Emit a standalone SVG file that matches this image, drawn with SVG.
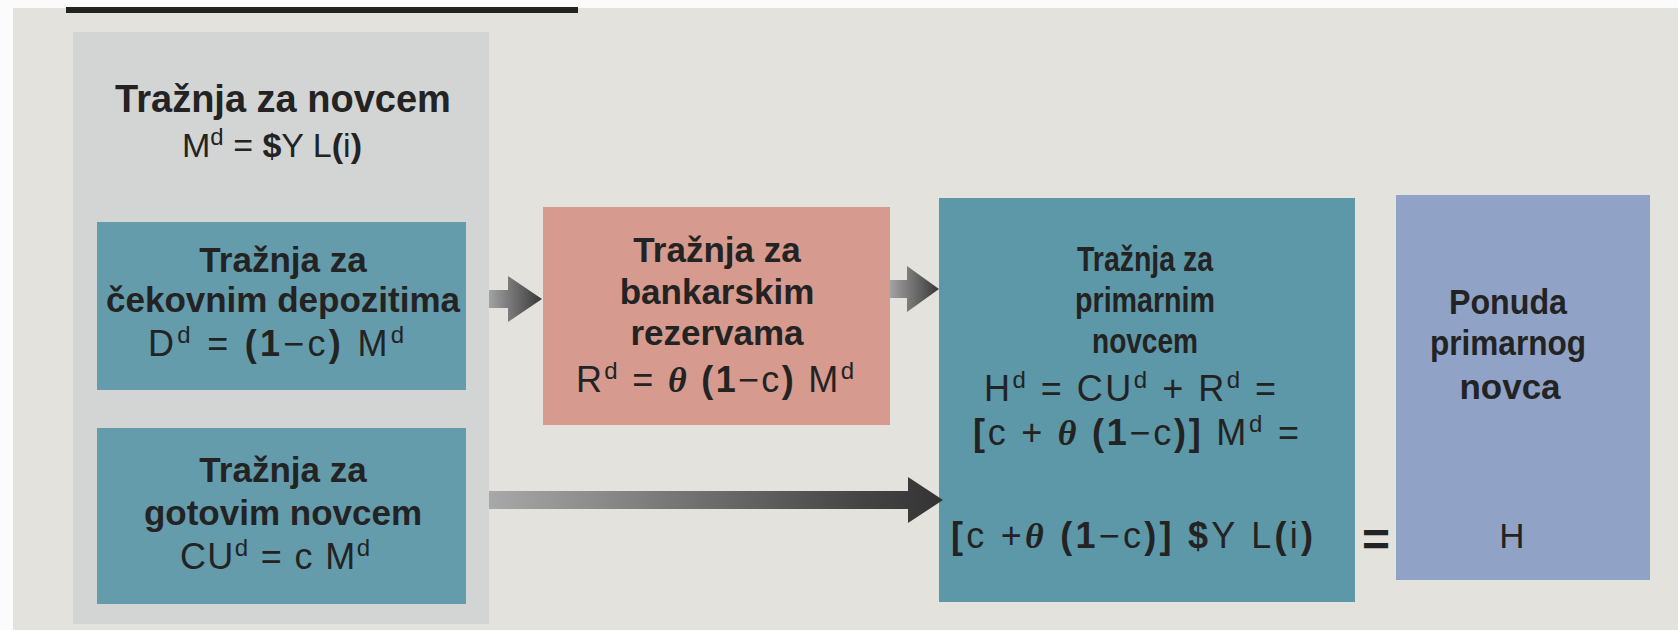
<svg xmlns="http://www.w3.org/2000/svg" width="1678" height="630" viewBox="0 0 1678 630">
<style>
.t{font-family:"Liberation Sans",Arial,Helvetica,sans-serif;fill:#232323;text-anchor:middle}
.b{font-weight:bold;font-size:35px}
.f{font-size:36px}
.s{font-size:24px}
.bb{font-weight:bold}
.th{font-family:"Liberation Serif","DejaVu Serif",serif;font-style:italic;font-weight:bold}
.blue{fill:#649cac}
.big{fill:#5d98a8}
.pink{fill:#d69a8f}
.purple{fill:#90a3c7}
</style>
<defs>
<linearGradient id="g1" gradientUnits="userSpaceOnUse" x1="489" y1="0" x2="542" y2="0"><stop offset="0" stop-color="#a2a2a2"/><stop offset="1" stop-color="#383838"/></linearGradient>
<linearGradient id="g2" gradientUnits="userSpaceOnUse" x1="890" y1="0" x2="939" y2="0"><stop offset="0" stop-color="#a2a2a2"/><stop offset="1" stop-color="#383838"/></linearGradient>
<linearGradient id="g3" gradientUnits="userSpaceOnUse" x1="489" y1="0" x2="943" y2="0"><stop offset="0" stop-color="#a8a8a8"/><stop offset="0.8" stop-color="#474747"/><stop offset="1" stop-color="#333333"/></linearGradient>
</defs>
<rect x="0" y="0" width="1678" height="630" fill="#fbfbfb"/>
<rect x="13" y="8" width="1665" height="622" fill="#e3e2dd"/>
<rect x="66" y="7" width="512" height="6" fill="#222"/>
<rect x="73" y="32" width="416" height="592" fill="#d3d5d4"/>

<g id="money-demand">
<text class="t bb" x="283" y="112" font-size="38">Tražnja za novcem</text>
<text class="t" x="272" y="157" font-size="34">M<tspan class="s" dy="-12">d</tspan><tspan dy="12"> = </tspan><tspan class="bb">$</tspan>Y L<tspan class="bb">(</tspan>i<tspan class="bb">)</tspan></text>
</g>

<g id="deposit-demand">
<rect class="blue" x="97" y="222" width="369" height="168"/>
<text class="t b" x="283" y="272">Tražnja za</text>
<text class="t b" x="283" y="312">čekovnim depozitima</text>
<text class="t f" x="276" y="356" textLength="256" lengthAdjust="spacing">D<tspan class="s" dy="-13">d</tspan><tspan dy="13"> = </tspan><tspan class="bb">(1</tspan>−c<tspan class="bb">)</tspan> M<tspan class="s" dy="-13">d</tspan></text>
</g>

<g id="currency-demand">
<rect class="blue" x="97" y="428" width="369" height="176"/>
<text class="t b" x="283" y="482">Tražnja za</text>
<text class="t b" x="283" y="525">gotovim novcem</text>
<text class="t f" x="275" y="569" textLength="190" lengthAdjust="spacing">CU<tspan class="s" dy="-13">d</tspan><tspan dy="13"> = c M</tspan><tspan class="s" dy="-13">d</tspan></text>
</g>

<g id="reserves-demand">
<rect class="pink" x="543" y="207" width="347" height="218"/>
<text class="t b" x="717" y="262">Tražnja za</text>
<text class="t b" x="717" y="304">bankarskim</text>
<text class="t b" x="717" y="345">rezervama</text>
<text class="t f" x="715" y="392" textLength="278" lengthAdjust="spacing">R<tspan class="s" dy="-13">d</tspan><tspan dy="13"> = </tspan><tspan class="th">θ</tspan> <tspan class="bb">(1</tspan>−c<tspan class="bb">)</tspan> M<tspan class="s" dy="-13">d</tspan></text>
</g>

<g id="hpm-demand">
<rect class="big" x="939" y="198" width="416" height="404"/>
<text class="t b" x="1145" y="271" textLength="136" lengthAdjust="spacingAndGlyphs">Tražnja za</text>
<text class="t b" x="1145" y="312" textLength="140" lengthAdjust="spacingAndGlyphs">primarnim</text>
<text class="t b" x="1145" y="353" textLength="106" lengthAdjust="spacingAndGlyphs">novcem</text>
<text class="t f" x="1130" y="401" textLength="292" lengthAdjust="spacing">H<tspan class="s" dy="-13">d</tspan><tspan dy="13"> = CU</tspan><tspan class="s" dy="-13">d</tspan><tspan dy="13"> + R</tspan><tspan class="s" dy="-13">d</tspan><tspan dy="13"> =</tspan></text>
<text class="t f" x="1136" y="445" textLength="326" lengthAdjust="spacing"><tspan class="bb">[</tspan>c + <tspan class="th">θ</tspan> <tspan class="bb">(1</tspan>−c<tspan class="bb">)]</tspan> M<tspan class="s" dy="-13">d</tspan><tspan dy="13"> =</tspan></text>
<text class="t f" x="1132" y="548" textLength="362" lengthAdjust="spacing"><tspan class="bb">[</tspan>c +<tspan class="th">θ</tspan>  <tspan class="bb">(1</tspan>−c<tspan class="bb">)] $</tspan>Y L<tspan class="bb">(</tspan>i<tspan class="bb">)</tspan></text>
</g>

<g id="equals">
<text class="t bb" x="1376" y="556" font-size="48">=</text>
</g>

<g id="hpm-supply">
<rect class="purple" x="1396" y="195" width="254" height="385"/>
<text class="t b" x="1508" y="314" textLength="118" lengthAdjust="spacingAndGlyphs">Ponuda</text>
<text class="t b" x="1508" y="355" textLength="156" lengthAdjust="spacingAndGlyphs">primarnog</text>
<text class="t b" x="1510" y="399">novca</text>
<text class="t" x="1512" y="548" font-size="35">H</text>
</g>

<g id="connectors">
<path d="M489,290 H508 V276 L542,299 L508,322 V308 H489 Z" fill="url(#g1)"/>
<path d="M890,280 H907 V266 L939,289 L907,312 V298 H890 Z" fill="url(#g2)"/>
<path d="M489,491 H908 V477 L943,500 L908,523 V509 H489 Z" fill="url(#g3)"/>
</g>
</svg>
